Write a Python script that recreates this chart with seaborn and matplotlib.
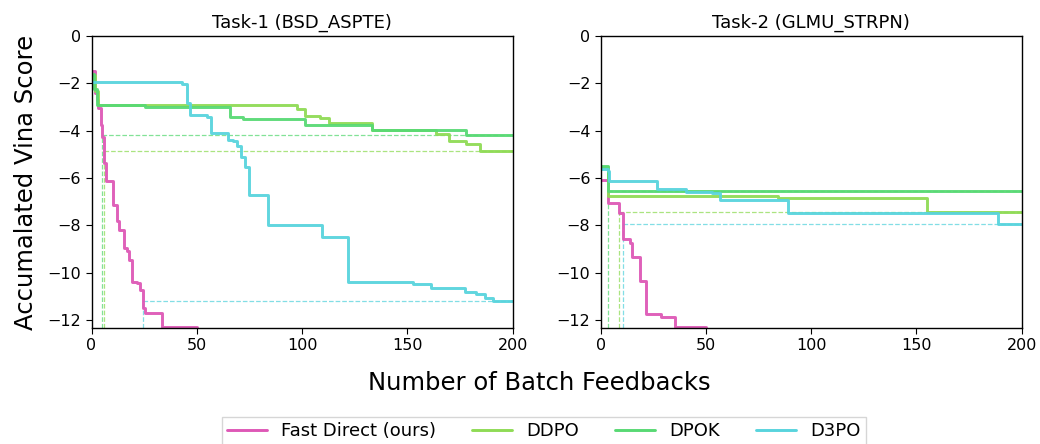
import numpy as np
import pandas as pd
import matplotlib
matplotlib.use("Agg")
import matplotlib.pyplot as plt
from matplotlib.lines import Line2D
import seaborn as sns

# ---- data: step curves of accumulated Vina score vs. batch feedbacks ----
methods = ["Fast Direct (ours)", "DDPO", "DPOK", "D3PO"]
titles = ["Task-1 (BSD_ASPTE)", "Task-2 (GLMU_STRPN)"]

# Task-1
fast1_x = [0, 1.7, 2.5, 3.2, 4.5, 4.9, 6.0, 6.9, 10.0, 12.0, 13.2, 15.6, 16.7,
           17.9, 19.1, 21.5, 23.0, 24.6, 25.6, 33.5, 50]
fast1_y = [-1.50, -2.42, -2.70, -3.06, -3.76, -4.25, -5.38, -6.15, -7.14, -7.84,
           -8.20, -8.97, -9.11, -9.46, -10.38, -10.45, -10.73, -11.50, -11.72,
           -12.30, -12.30]
ddpo1_x = [0, 1.8, 3.2, 97.4, 101.3, 108.4, 112.9, 133.0, 163.8, 169.8, 177.7,
           184.7, 200]
ddpo1_y = [-1.65, -2.31, -2.92, -3.10, -3.38, -3.48, -3.66, -3.97, -4.14, -4.46,
           -4.56, -4.85, -4.85]
dpok1_x = [0, 1.2, 2.8, 25.4, 65.7, 71.7, 101.3, 133.0, 178.0, 200]
dpok1_y = [-1.60, -2.25, -2.92, -3.02, -3.44, -3.52, -3.76, -3.97, -4.18, -4.18]
d3po1_x = [0, 42.8, 45.2, 46.7, 54.7, 56.6, 64.6, 67.3, 68.9, 71.0, 72.9, 74.8,
           83.8, 109.4, 121.8, 152.7, 161.0, 177.3, 182.8, 186.9, 190.7, 200]
d3po1_y = [-1.96, -2.03, -2.82, -3.34, -3.44, -4.11, -4.39, -4.46, -4.65, -5.13,
           -5.52, -6.72, -7.98, -8.50, -10.42, -10.49, -10.66, -10.84, -10.91,
           -11.08, -11.20, -11.20]

# Task-2
fast2_x = [0, 3.3, 8.7, 10.6, 13.7, 14.9, 18.7, 21.5, 28.8, 35.3, 50]
fast2_y = [-6.10, -7.04, -7.50, -8.60, -8.77, -9.33, -10.35, -11.76, -11.90,
           -12.30, -12.30]
ddpo2_x = [0, 3.6, 84.0, 155.2, 200]
ddpo2_y = [-5.55, -6.76, -6.86, -7.44, -7.44]
dpok2_x = [0, 3.4, 200]
dpok2_y = [-5.49, -6.55, -6.55]
d3po2_x = [0, 3.4, 4.1, 26.7, 40.7, 52.7, 56.6, 89.2, 188.8, 200]
d3po2_y = [-5.63, -5.70, -6.11, -6.48, -6.58, -6.65, -6.93, -7.49, -7.96, -7.96]

xticks = [0, 50, 100, 150, 200]
yticks = [0, -2, -4, -6, -8, -10, -12]

colors = {
    "Fast Direct (ours)": "#DE58B6",
    "DDPO": "#8FDB55",
    "DPOK": "#58D974",
    "D3PO": "#58D4DD",
}

tasks = [
    {"Fast Direct (ours)": (fast1_x, fast1_y), "DDPO": (ddpo1_x, ddpo1_y),
     "DPOK": (dpok1_x, dpok1_y), "D3PO": (d3po1_x, d3po1_y)},
    {"Fast Direct (ours)": (fast2_x, fast2_y), "DDPO": (ddpo2_x, ddpo2_y),
     "DPOK": (dpok2_x, dpok2_y), "D3PO": (d3po2_x, d3po2_y)},
]

sns.set_style("ticks")
plt.rcParams["font.family"] = ["DejaVu Sans"]
plt.rcParams["text.color"] = "black"

fig = plt.figure(figsize=(10.4, 4.44), dpi=100)
ax_l = fig.add_axes([0.088, 0.262, 0.405, 0.657])
ax_r = fig.add_axes([0.5776, 0.262, 0.4048, 0.657])
ymin = -12.33

for ax, title, series in zip([ax_l, ax_r], titles, tasks):
    frames = []
    for m in methods:
        xs, ys = series[m]
        frames.append(pd.DataFrame({"step": xs, "score": ys, "method": m}))
    df = pd.concat(frames, ignore_index=True)
    sns.lineplot(data=df, x="step", y="score", hue="method", hue_order=methods,
                 palette=colors, estimator=None, sort=False,
                 drawstyle="steps-post", lw=2.1, alpha=0.95, legend=False, ax=ax)

    # dashed guides: where our curve first reaches each baseline's final score
    fx = np.array(series["Fast Direct (ours)"][0])
    fy = np.array(series["Fast Direct (ours)"][1])
    for m in methods[1:]:
        final = series[m][1][-1]
        hit = fx[np.argmax(fy <= final)]
        ax.plot([hit, hit], [ymin, final], ls="--", lw=0.9,
                color=colors[m], alpha=0.75, zorder=1)
        ax.plot([hit, 200], [final, final], ls="--", lw=0.9,
                color=colors[m], alpha=0.75, zorder=1)

    ax.set_xlim(0, 200)
    ax.set_ylim(ymin, 0)
    ax.set_xticks(xticks)
    ax.set_yticks(yticks)
    ax.tick_params(labelsize=11.5, colors="black", length=4)
    for s in ax.spines.values():
        s.set_color("black")
        s.set_linewidth(1.0)
    ax.set_xlabel("")
    ax.set_ylabel("")
    ax.set_title(title, fontsize=13, color="black")

fig.text(0.519, 0.137, "Number of Batch Feedbacks", ha="center", va="center",
         fontsize=17.5, color="black")
fig.text(0.025, 0.59, "Accumalated Vina Score", ha="center", va="center",
         rotation=90, fontsize=17.5, color="black")

handles = [Line2D([0], [0], color=colors[m], lw=2.1) for m in methods]
fig.legend(handles, methods, loc="upper center", bbox_to_anchor=(0.523, 0.061),
           ncol=4, fontsize=13, frameon=True, handlelength=2.2,
           handletextpad=0.8, columnspacing=2.0, edgecolor="0.8",
           fancybox=False, borderaxespad=0.0, borderpad=0.3,
           labelcolor="black")

fig.savefig("out.png", dpi=100)
